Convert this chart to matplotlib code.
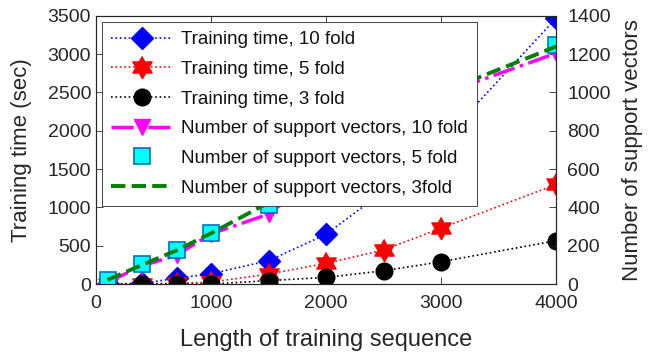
import numpy as np
import matplotlib
matplotlib.use("Agg")
import matplotlib.pyplot as plt

plt.rcParams["font.family"] = ["Liberation Sans", "DejaVu Sans"]

# data
length = [100, 400, 700, 1000, 1500, 2000, 2500, 3000, 4000]
time_10fold = [0, 10, 75, 135, 305, 650, 1210, 1850, 3470]
time_5fold = [0, 5, 10, 25, 130, 270, 445, 730, 1300]
time_3fold = [0, 0, 0, 0, 45, 87, 174, 291, 566]

sv_10fold = [10, 95, 150, 262, 365, 600, 800, 990, 1205]
sv_5fold = [21, 104, 178, 266, 415, 610, 810, 1000, 1249]
sv_3fold = [22, 100, 176, 265, 425, 615, 815, 1000, 1240]

x_ticks = [0, 1000, 2000, 3000, 4000]
left_ticks = list(range(0, 3501, 500))
right_ticks = list(range(0, 1401, 200))

dark = "#262626"

# six pointed star like matlab's hexagram
ang = np.pi / 2 + np.arange(12) * np.pi / 6
rad = np.where(np.arange(12) % 2 == 0, 1.0, 1 / np.sqrt(3))
hexagram = np.column_stack([rad * np.cos(ang), rad * np.sin(ang)])

fig = plt.figure(figsize=(6.49, 3.52), dpi=100)
ax = fig.add_axes([0.148, 0.193, 0.709, 0.762])
ax2 = ax.twinx()

h1, = ax.plot(length, time_10fold, ":", color="blue", lw=1.2, marker="D",
              ms=11, mfc="blue", mec="blue", label="Training time, 10 fold")
h2, = ax.plot(length, time_5fold, ":", color="red", lw=1.2, marker=hexagram,
              ms=16, mfc="red", mec="red", label="Training time, 5 fold")
h3, = ax.plot(length, time_3fold, ":", color="black", lw=1.2, marker="o",
              ms=12, mfc="black", mec="black", label="Training time, 3 fold")

h4, = ax2.plot(length, sv_10fold, "-.", color="magenta", lw=2.5, marker="v",
               ms=11, mfc="magenta", mec="magenta",
               label="Number of support vectors, 10 fold")
h5, = ax2.plot(length, sv_5fold, linestyle="none", marker="s", ms=12,
               mfc="cyan", mec="#0072BD", mew=1.2,
               label="Number of support vectors, 5 fold")
h6, = ax2.plot(length, sv_3fold, "--", color="green", lw=2.8,
               label="Number of support vectors, 3fold")

ax.set_xlim(0, 4000)
ax.set_ylim(0, 3500)
ax2.set_ylim(0, 1400)
ax.set_xticks(x_ticks)
ax.set_yticks(left_ticks)
ax2.set_yticks(right_ticks)

ax.set_xlabel("Length of training sequence", fontsize=17, color=dark,
              labelpad=12)
ax.set_ylabel("Training time (sec)", fontsize=16, color=dark, labelpad=11)
ax2.set_ylabel("Number of support vectors", fontsize=16, color=dark,
               labelpad=8)

ax.tick_params(axis="x", direction="in", top=True, labelsize=14, colors=dark,
               length=5, width=0.6, pad=8)
ax.tick_params(axis="y", direction="in", labelsize=14, colors=dark,
               length=5, width=0.6)
ax2.tick_params(axis="y", direction="in", labelsize=14, colors=dark,
                length=5, width=0.6, pad=8)
for a in (ax, ax2):
    for s in a.spines.values():
        s.set_color(dark)
        s.set_linewidth(0.8)

leg = ax2.legend(handles=[h1, h2, h3, h4, h5, h6], loc="upper left",
                 bbox_to_anchor=(0.013, 0.978), borderaxespad=0,
                 fontsize=13.5, handlelength=3.3, handletextpad=0.4,
                 labelspacing=0.67, borderpad=0.5, fancybox=False,
                 framealpha=1)
leg.get_frame().set_edgecolor(dark)
leg.get_frame().set_linewidth(0.6)
for t in leg.get_texts():
    t.set_color("#111111")

fig.savefig("out.png", dpi=100)
